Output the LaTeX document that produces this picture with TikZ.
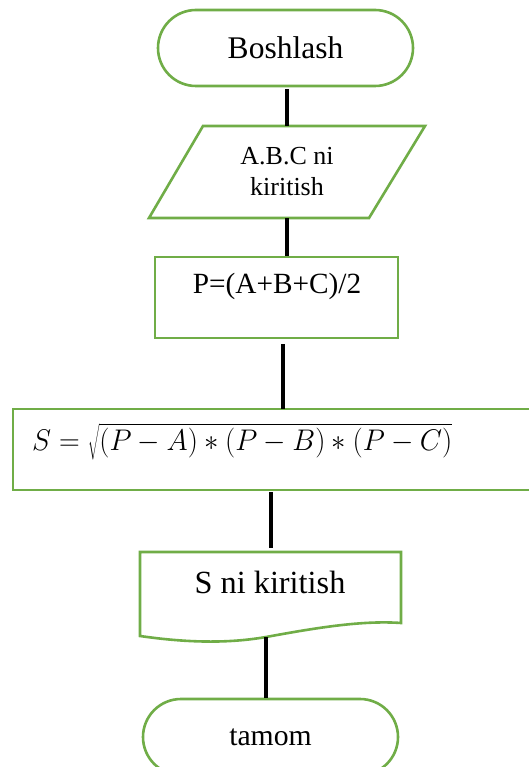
\documentclass[tikz,border=0pt]{standalone}
\usepackage{graphicx}
\usepackage{fontspec}
\setmainfont{Liberation Serif}
\usetikzlibrary{calc}
\definecolor{boxgreen}{HTML}{70AD47}
\begin{document}
\begin{tikzpicture}[x=1pt,y=-1pt,
  shapeline/.style={draw=boxgreen, line width=2.6pt},
  conn/.style={draw=black, line width=3.4pt},
  lbl/.style={inner sep=0pt, text=black},
  term/.style={shapeline, rounded corners=38pt, minimum width=255pt, minimum height=76pt, inner sep=0pt}]
\clip (0,0) rectangle (529,767);
\fill[white] (0,0) rectangle (529,767);

% start
\node[term, font=\fontsize{31.5}{35}\selectfont] (start) at (285.5,48) {Boshlash};

% input parallelogram
\draw[shapeline] (203,126) -- (425,126) -- (369,218) -- (149,218) -- cycle;
\node[lbl, align=center, font=\fontsize{26}{31}\selectfont] (input) at (287,172) {A.B.C ni\\kiritish};
\coordinate (inTop) at (287,126);
\coordinate (inBot) at (287,218);

% P box
\node[shapeline, minimum width=243pt, minimum height=81pt, inner sep=0pt] (pbox) at (276.5,297.5) {};
\node[lbl, font=\fontsize{29.3}{33}\selectfont] (ptext) at (277,286) {P=(A+B+C)/2};

% S box
\draw[shapeline] (560,409) -- (13,409) -- (13,490) -- (560,490);
\coordinate (sTop) at (283,409);
\coordinate (sBot) at (271,490);
\node[lbl, anchor=west, font=\fontsize{24}{28}\selectfont] (formula) at (32,442) {\scalebox{1.155}[1.2]{$S=\sqrt{(P-A)\ast(P-B)\ast(P-C)}$}};

% output document
\draw[shapeline] (140,552) -- (401,552) -- (401,623)
  .. controls (360,620) and (310,629) .. (266,637)
  .. controls (220,645) and (175,641) .. (140,636) -- cycle;
\coordinate (docTop) at (273,552);
\coordinate (docBot) at (266,637);
\node[lbl, font=\fontsize{32.3}{36}\selectfont] (outtext) at (270,582) {S ni kiritish};

% end
\node[term, font=\fontsize{29.7}{33}\selectfont] (stop) at (270.5,737) {tamom};

% connectors
\draw[conn] ($(start.south -| inTop)+(0,2)$) -- (inTop);
\draw[conn] (inBot) -- (pbox.north -| inBot);
\draw[conn] ($(pbox.south -| sTop)+(0,5)$) -- (sTop);
\draw[conn] ($(sBot)+(0,2)$) -- ($(docTop -| sBot)+(0,-4)$);
\draw[conn] (docBot) -- (stop.north -| docBot);
\end{tikzpicture}
\end{document}
